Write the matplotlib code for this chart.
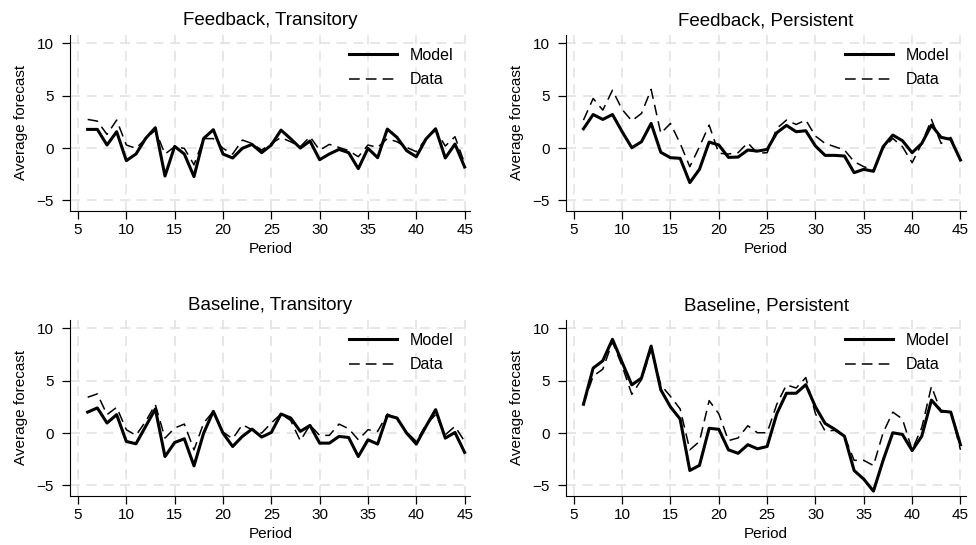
import numpy as np
import matplotlib.pyplot as plt

plt.rcParams['font.family'] = ['Liberation Sans', 'DejaVu Sans']

period = np.arange(6, 46)

# Feedback, Transitory
fb_tr_model = [1.78, 1.78, 0.29, 1.56, -1.2, -0.57, 0.92, 1.94, -2.67, 0.16,
               -0.57, -2.73, 0.92, 1.75, -0.57, -0.95, -0.03, 0.35, -0.44, 0.29,
               1.71, 0.89, 0.0, 0.67, -1.11, -0.57, -0.13, -0.44, -1.97, -0.03,
               -0.92, 1.81, 1.02, -0.25, -0.83, 0.86, 1.84, -0.95, 0.38, -1.81]
fb_tr_data = [2.73, 2.57, 1.3, 2.67, 0.29, -0.03, 0.9, 1.7, -0.57, 0.13,
              -0.03, -1.6, 0.9, 0.9, -0.03, -0.57, 0.76, 0.44, -0.2, 0.44,
              1.0, 0.6, 0.13, 1.08, -0.2, 0.35, 0.06, -0.25, -0.83, 0.29,
              0.06, 0.9, 0.6, 0.06, -0.35, 0.9, 1.7, 0.19, 1.08, -1.46]

# Feedback, Persistent
fb_pe_model = [1.84, 3.2, 2.73, 3.2, 1.56, 0.03, 0.6, 2.35, -0.41, -0.92,
               -0.98, -3.3, -2.03, 0.57, 0.29, -0.89, -0.86, -0.19, -0.29, -0.13,
               1.46, 2.16, 1.56, 1.65, 0.19, -0.7, -0.7, -0.76, -2.35, -2.03,
               -2.22, 0.13, 1.24, 0.7, -0.44, 0.44, 2.19, 1.02, 0.83, -1.14]
fb_pe_data = [2.67, 4.73, 3.62, 5.52, 3.68, 2.6, 3.3, 5.6, 1.4, 2.35,
              0.44, -1.78, 0.13, 2.19, -0.5, -0.57, -0.44, 0.5, -0.5, -0.44,
              1.87, 2.67, 2.25, 2.67, 1.14, 0.44, 0.13, -0.19, -1.3, -1.78,
              -2.1, -0.03, 0.92, 0.13, -1.4, 0.44, 2.73, 0.44, 1.02, -1.2]

# Baseline, Transitory
bl_tr_model = [2.0, 2.4, 0.96, 1.76, -0.8, -1.02, 0.64, 2.3, -2.24, -0.9,
               -0.54, -3.13, 0.0, 2.08, 0.0, -1.28, -0.32, 0.38, -0.38, 0.06,
               1.82, 1.44, 0.16, 0.73, -0.96, -0.96, -0.32, -0.42, -2.24, -0.64,
               -1.05, 1.69, 1.44, 0.0, -1.05, 0.64, 2.24, -0.48, 0.06, -1.85]
bl_tr_data = [3.42, 3.74, 1.76, 2.46, 0.32, -0.22, 1.12, 2.72, -0.48, 0.48,
              0.86, -1.6, 0.96, 2.08, 0.1, -0.54, 0.8, 0.32, 0.0, 0.96,
              1.82, 1.2, -0.73, 0.77, -0.22, -0.22, 0.86, 0.42, -0.64, 0.32,
              0.16, 1.82, 1.37, 0.1, -0.8, 0.8, 1.76, -0.16, 0.64, -0.8]

# Baseline, Persistent
bl_pe_model = [2.75, 6.2, 6.9, 8.95, 6.75, 4.6, 5.25, 8.3, 4.13, 2.5,
               1.34, -3.57, -3.08, 0.46, 0.36, -1.6, -1.93, -1.11, -1.5, -1.28,
               1.84, 3.8, 3.8, 4.62, 2.5, 0.92, 0.36, -0.3, -3.57, -4.4,
               -5.54, -2.6, 0.03, -0.13, -1.67, -0.3, 3.15, 2.1, 2.0, -1.11]
bl_pe_data = [2.75, 5.44, 6.1, 8.7, 6.4, 3.7, 5.1, 8.0, 4.6, 3.5,
              2.3, -1.6, -0.8, 3.1, 1.84, -0.72, -0.46, 0.7, 0.03, 0.03,
              2.75, 4.6, 4.3, 5.3, 1.84, 0.2, 0.26, -0.3, -2.6, -2.6,
              -3.1, 0.03, 2.0, 1.34, -1.6, 0.52, 4.46, 2.0, 2.1, -1.6]

titles = ["Feedback, Transitory", "Feedback, Persistent",
          "Baseline, Transitory", "Baseline, Persistent"]
models = [fb_tr_model, fb_pe_model, bl_tr_model, bl_pe_model]
datas = [fb_tr_data, fb_pe_data, bl_tr_data, bl_pe_data]

fig = plt.figure(figsize=(9.76, 5.45), dpi=100)
lefts = [0.072, 0.580, 0.072, 0.580]
bottoms = [0.613, 0.613, 0.090, 0.090]
w, h = 0.41, 0.323

for i in range(4):
    ax = fig.add_axes([lefts[i], bottoms[i], w, h])
    ax.plot(period, models[i], color="black", lw=2.2, label="Model")
    ax.plot(period, datas[i], color="black", lw=1.1, dashes=(7, 4), label="Data")
    ax.set_xlim(4.2, 45.6)
    ax.set_ylim(-6.0, 10.8)
    ax.set_xticks(np.arange(5, 50, 5))
    ax.set_yticks([-5, 0, 5, 10])
    ax.grid(True, color="#e3e3e3", lw=1.2, dashes=(6, 4))
    ax.set_axisbelow(True)
    for s in ["top", "right"]:
        ax.spines[s].set_visible(False)
    ax.tick_params(labelsize=11, length=6, width=0.9)
    ax.tick_params(axis="y", pad=6)
    ax.tick_params(axis="x", pad=3)
    ax.set_title(titles[i], fontsize=13.5, pad=7)
    ax.set_xlabel("Period", fontsize=11, labelpad=3)
    ax.set_ylabel("Average forecast", fontsize=11, labelpad=6)
    ax.legend(loc="upper right", frameon=False, fontsize=11.5,
              handlelength=3.0, borderaxespad=0.4, labelspacing=0.6,
              bbox_to_anchor=(0.99, 1.0))

plt.savefig("out.png", dpi=100)
